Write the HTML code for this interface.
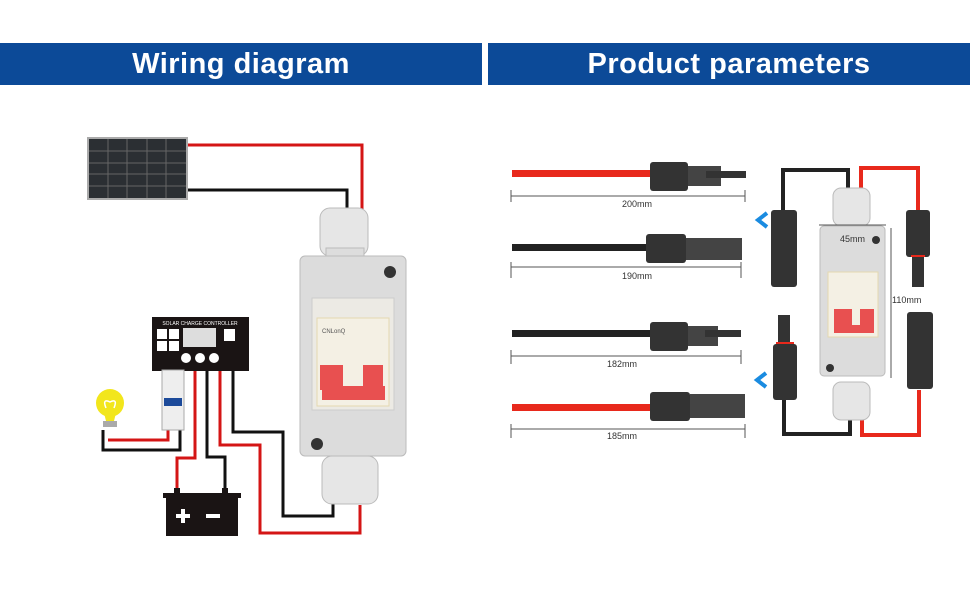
<!DOCTYPE html>
<html><head><meta charset="utf-8"><style>
body{margin:0;background:#fff;width:970px;height:600px;overflow:hidden;font-family:"Liberation Sans",sans-serif}
.h{position:absolute;top:43px;height:42px;background:#0c4a98;color:#fff;font-weight:bold;font-size:29px;text-align:center;line-height:42px;letter-spacing:0.5px}
</style></head><body>
<div class="h" style="left:0;width:482px">Wiring diagram</div>
<div class="h" style="left:488px;width:482px">Product parameters</div>
<svg width="970" height="600" style="position:absolute;left:0;top:0" xmlns="http://www.w3.org/2000/svg">
<g fill="none" stroke-width="3">
<!-- left wires -->
<path d="M188 145H362V210" stroke="#d41515"/>
<path d="M188 190H347V210" stroke="#111"/>
<path d="M168 430V440H108" stroke="#d41515"/>
<path d="M180 430V450H103V430" stroke="#111"/>
<path d="M195 370V458H177V490" stroke="#d41515"/>
<path d="M207 370V457H225V490" stroke="#111"/>
<path d="M220 370V445H260V533H360V505" stroke="#d41515"/>
<path d="M233 370V432H283V516H333V500" stroke="#111"/>
</g>
<!-- solar panel -->
<rect x="87" y="137" width="101" height="63" fill="#aaa"/>
<g fill="#2b2f33">
<rect x="89" y="139" width="97" height="59"/></g>
<g stroke="#666" stroke-width="1">
<path d="M108 139V198M127 139V198M147 139V198M166 139V198M89 151H186M89 163H186M89 174H186M89 186H186"/></g>
<!-- top gland -->
<rect x="320" y="208" width="48" height="48" rx="10" fill="#e6e6e6" stroke="#bbb"/>
<rect x="326" y="248" width="38" height="10" fill="#ddd" stroke="#bbb"/>
<!-- box -->
<rect x="300" y="256" width="106" height="200" rx="5" fill="#dcdcdc" stroke="#bbb"/>
<circle cx="390" cy="272" r="6" fill="#333"/><circle cx="317" cy="444" r="6" fill="#333"/>
<rect x="312" y="298" width="82" height="112" fill="#eceae4" stroke="#ccc"/>
<rect x="317" y="318" width="72" height="88" fill="#f4f0e4" stroke="#e4d8b0"/>
<text x="322" y="333" font-size="6" fill="#555">CNLonQ</text>
<rect x="320" y="365" width="23" height="25" fill="#e85050"/><rect x="363" y="365" width="20" height="25" fill="#e85050"/>
<rect x="322" y="386" width="63" height="14" fill="#e85050"/>
<!-- bottom gland -->
<rect x="322" y="456" width="56" height="48" rx="10" fill="#e6e6e6" stroke="#bbb"/>
<!-- controller -->
<rect x="152" y="317" width="97" height="54" fill="#1a1414"/>
<text x="200" y="325" font-size="5" fill="#fff" text-anchor="middle">SOLAR CHARGE CONTROLLER</text>
<g fill="#fff"><rect x="157" y="329" width="10" height="10"/><rect x="169" y="329" width="10" height="10"/><rect x="157" y="341" width="10" height="10"/><rect x="169" y="341" width="10" height="10"/>
<rect x="183" y="328" width="33" height="19" fill="#ddd"/><rect x="224" y="329" width="11" height="12"/>
<circle cx="186" cy="358" r="5"/><circle cx="200" cy="358" r="5"/><circle cx="214" cy="358" r="5"/></g>
<!-- MCB -->
<rect x="162" y="370" width="22" height="60" fill="#eee" stroke="#aaa"/>
<rect x="164" y="398" width="18" height="8" fill="#1c4a9a"/>
<!-- bulb -->
<circle cx="110" cy="403" r="14" fill="#f2e61c"/>
<path d="M104 413h12l-2 8h-8z" fill="#f2e61c"/>
<rect x="103" y="421" width="14" height="6" fill="#aaa"/>
<path d="M106 408q-4-10 4-6q8-4 4 6" stroke="#fff" stroke-width="1.5" fill="none"/>
<!-- battery -->
<rect x="163" y="493" width="78" height="5" fill="#1a1414"/>
<rect x="166" y="498" width="72" height="38" fill="#1a1414"/>
<path d="M176 516h14M183 509v14M206 516h14" stroke="#fff" stroke-width="4"/>
<rect x="174" y="488" width="6" height="6" fill="#1a1414"/><rect x="222" y="488" width="6" height="6" fill="#1a1414"/>

<!-- RIGHT -->
<rect x="512" y="170" width="140" height="7" fill="#e8291c"/>
<rect x="650" y="162" width="38" height="29" rx="3" fill="#333"/><rect x="688" y="166" width="33" height="20" fill="#444"/>
<rect x="706" y="171" width="40" height="7" fill="#333"/>
<rect x="512" y="244" width="135" height="7" fill="#222"/>
<rect x="646" y="234" width="40" height="29" rx="3" fill="#333"/><rect x="686" y="238" width="56" height="22" fill="#444"/>
<rect x="512" y="330" width="140" height="7" fill="#222"/>
<rect x="650" y="322" width="38" height="29" rx="3" fill="#333"/><rect x="688" y="326" width="30" height="20" fill="#444"/>
<rect x="705" y="330" width="36" height="7" fill="#333"/>
<rect x="512" y="404" width="140" height="7" fill="#e8291c"/>
<rect x="650" y="392" width="40" height="29" rx="3" fill="#333"/><rect x="690" y="394" width="55" height="24" fill="#444"/>
<g stroke="#555" stroke-width="1">
<path d="M511 196H745M511 190V202M745 190V202M511 267H741M511 262V278M741 262V278M511 356H741M511 350V364M741 350V364M511 429H745M511 424V438M745 424V438"/></g>
<g font-size="9" fill="#333" text-anchor="middle"><text x="637" y="207">200mm</text><text x="637" y="279">190mm</text><text x="622" y="367">182mm</text><text x="622" y="439">185mm</text></g>
<path d="M767 213l-9 7 9 7" stroke="#1a8be0" stroke-width="4" fill="none"/>
<path d="M766 373l-9 7 9 7" stroke="#1a8be0" stroke-width="4" fill="none"/>
<g fill="none" stroke-width="4">
<path d="M783 215V170H848V190" stroke="#222"/><path d="M861 190V168H918V215" stroke="#e8291c"/>
<path d="M784 388V434H850V410" stroke="#222"/><path d="M862 410V435H919V390" stroke="#e8291c"/>
</g>
<rect x="771" y="210" width="26" height="77" rx="3" fill="#333"/>
<rect x="906" y="210" width="24" height="47" rx="3" fill="#333"/><rect x="912" y="257" width="12" height="30" fill="#333"/><rect x="911" y="255" width="14" height="2" fill="#e8291c"/>
<rect x="778" y="315" width="12" height="30" fill="#333"/><rect x="773" y="344" width="24" height="56" rx="3" fill="#333"/><rect x="776" y="342" width="18" height="2" fill="#e8291c"/>
<rect x="907" y="312" width="26" height="77" rx="3" fill="#333"/>
<rect x="833" y="188" width="37" height="38" rx="8" fill="#e6e6e6" stroke="#bbb"/>
<rect x="833" y="382" width="37" height="38" rx="8" fill="#e6e6e6" stroke="#bbb"/>
<rect x="820" y="226" width="65" height="150" rx="4" fill="#dcdcdc" stroke="#bbb"/>
<circle cx="876" cy="240" r="4" fill="#333"/><circle cx="830" cy="368" r="4" fill="#333"/>
<rect x="828" y="272" width="50" height="65" fill="#f4f0e4" stroke="#e4d8b0"/>
<rect x="834" y="309" width="18" height="20" fill="#e85050"/><rect x="860" y="309" width="14" height="20" fill="#e85050"/><rect x="834" y="325" width="40" height="8" fill="#e85050"/>
<g stroke="#555" stroke-width="1"><path d="M819 225H886M891 228V378"/></g>
<g font-size="9" fill="#333"><text x="840" y="242">45mm</text><text x="892" y="303">110mm</text></g>
</svg>
</body></html>
